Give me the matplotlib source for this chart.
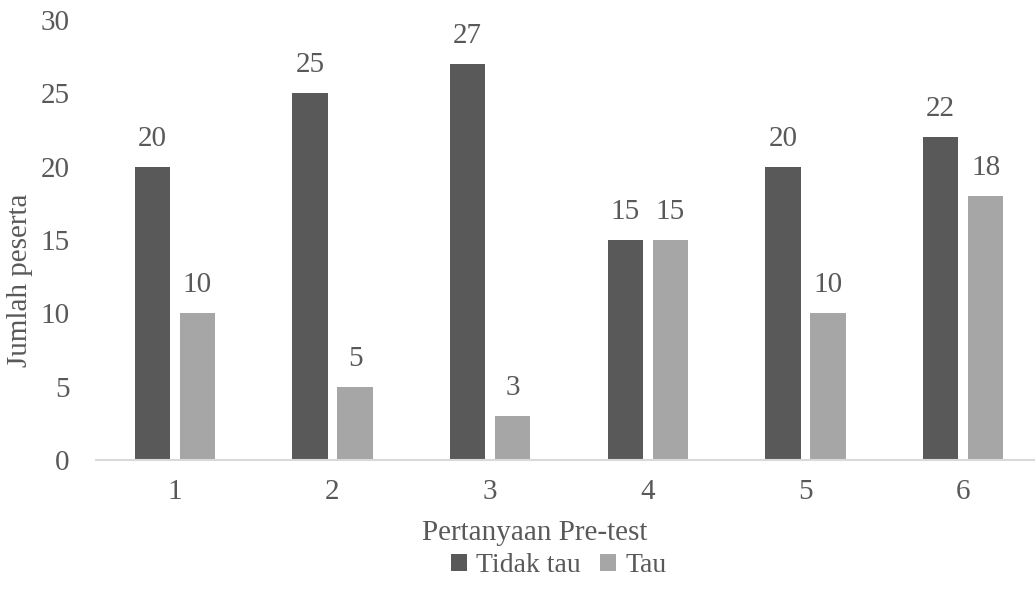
import matplotlib
matplotlib.use("Agg")
import matplotlib.pyplot as plt
import numpy as np

plt.rcParams['font.family'] = ['Liberation Serif', 'DejaVu Serif']

categories = ["1", "2", "3", "4", "5", "6"]
tidak_tau = [20, 25, 27, 15, 20, 22]
tau = [10, 5, 3, 15, 10, 18]
series_names = ["Tidak tau", "Tau"]
colors = ["#595959", "#a6a6a6"]

W, H = 1035, 590
fig = plt.figure(figsize=(W / 100, H / 100), dpi=100)
left, right = 96, 1042
top, bottom = 20, 460
ax = fig.add_axes([left / W, 1 - bottom / H, (right - left) / W, (bottom - top) / H])

x = np.arange(len(categories))
bw = 0.225
off = 0.143
text_color = "#595959"
fs = 21

for vals, o, c, name in zip([tidak_tau, tau], [-off, off], colors, series_names):
    bars = ax.bar(x + o, vals, width=bw, color=c, label=name, zorder=2)
    for b, v in zip(bars, vals):
        ax.annotate(str(v), (b.get_x() + b.get_width() / 2, v),
                    xytext=(0, 15), textcoords="offset pixels",
                    ha="center", va="bottom", fontsize=fs, color=text_color)

ax.set_xlim(-0.5, len(categories) - 0.5)
ax.set_ylim(0, 30)
ax.set_yticks(range(0, 31, 5))
ax.set_xticks(x)
ax.set_xticklabels(categories)
ax.tick_params(axis="both", length=0, labelsize=fs, colors=text_color)
ax.tick_params(axis="x", pad=14)
ax.tick_params(axis="y", pad=19)
for s in ["top", "right", "left"]:
    ax.spines[s].set_visible(False)
ax.spines["bottom"].set_color("#d9d9d9")
ax.spines["bottom"].set_linewidth(1.5)

ax.set_ylabel("Jumlah peserta", fontsize=fs, color=text_color)
ax.yaxis.set_label_coords((33 - left) / (right - left), (bottom - 280) / (bottom - top))
ax.set_xlabel("Pertanyaan Pre-test", fontsize=fs, color=text_color)
ax.xaxis.set_label_coords((535 - left) / (right - left), -(520 - bottom) / (bottom - top))

leg = fig.legend(loc="center", bbox_to_anchor=(559 / W, 1 - 566 / H), ncol=2,
                 frameon=False, fontsize=20, handlelength=0.55, handleheight=0.55,
                 handletextpad=0.35, columnspacing=0.7, labelcolor=text_color)

fig.savefig("out.png", dpi=100)
